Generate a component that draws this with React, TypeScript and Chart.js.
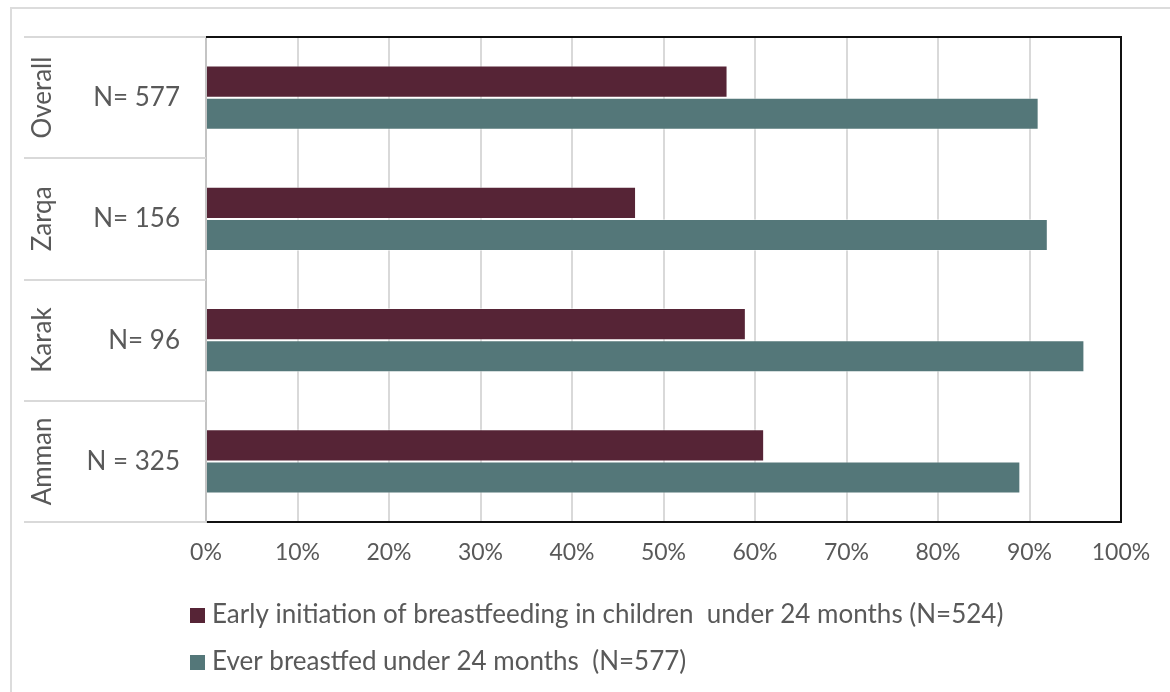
import { useEffect, useRef } from 'react';
import { Chart, registerables } from 'chart.js';

Chart.register(...registerables);

// Regions (top to bottom) and their sample sizes
const regions = ['Overall', 'Zarqa', 'Karak', 'Amman'];
const sampleSizes = ['N= 577', 'N= 156', 'N= 96', 'N = 325'];

// Percentages per region
const earlyInitiation = [57, 47, 59, 61];
const everBreastfed = [91, 92, 96, 89];

const seriesNames = [
  'Early initiation of breastfeeding in children  under 24 months (N=524)',
  'Ever breastfed under 24 months  (N=577)',
];
const seriesColors = ['#562436', '#547779'];

const FONT_FAMILY = 'Lato, "Open Sans", sans-serif';
const TEXT_COLOR = '#595959';

// Draws the grouped category column, the black plot frame and the legend
const decorations = {
  id: 'decorations',
  afterDraw(chart: any) {
    const { ctx, chartArea: a, scales } = chart;
    const y = scales.y;
    ctx.save();

    // category separators spanning both label columns
    ctx.strokeStyle = '#d9d9d9';
    ctx.lineWidth = 2;
    for (let i = 0; i <= regions.length; i++) {
      const py = Math.round(y.getPixelForValue(i - 0.5));
      ctx.beginPath();
      ctx.moveTo(24, py);
      ctx.lineTo(a.left, py);
      ctx.stroke();
    }

    // rotated region names
    ctx.fillStyle = TEXT_COLOR;
    ctx.font = `26px ${FONT_FAMILY}`;
    ctx.textAlign = 'center';
    ctx.textBaseline = 'middle';
    regions.forEach((name, i) => {
      ctx.save();
      ctx.translate(43, y.getPixelForValue(i));
      ctx.rotate(-Math.PI / 2);
      ctx.fillText(name, 0, 0);
      ctx.restore();
    });

    // black frame on top and right of the plot area
    ctx.strokeStyle = '#111';
    ctx.lineWidth = 2;
    ctx.beginPath();
    ctx.moveTo(a.left, a.top);
    ctx.lineTo(a.right, a.top);
    ctx.lineTo(a.right, a.bottom);
    ctx.stroke();

    // legend, one series per row
    ctx.font = `26px ${FONT_FAMILY}`;
    ctx.textAlign = 'left';
    chart.data.datasets.forEach((ds: any, i: number) => {
      const cy = 615 + i * 47;
      ctx.fillStyle = ds.backgroundColor;
      ctx.fillRect(190, cy - 7, 15, 15);
      ctx.fillStyle = TEXT_COLOR;
      ctx.fillText(ds.label, 212, cy);
    });

    ctx.restore();
  },
};

export default function App() {
  const canvasRef = useRef<HTMLCanvasElement | null>(null);

  useEffect(() => {
    const canvas = canvasRef.current;
    if (!canvas) return;
    const chart = new Chart(canvas, {
      type: 'bar',
      data: {
        labels: regions,
        datasets: [
          {
            label: seriesNames[0],
            data: earlyInitiation,
            backgroundColor: seriesColors[0],
            borderColor: 'rgba(255,255,255,0.45)',
            borderWidth: 1,
          },
          {
            label: seriesNames[1],
            data: everBreastfed,
            backgroundColor: seriesColors[1],
            borderColor: 'rgba(255,255,255,0.45)',
            borderWidth: 1,
          },
        ],
      },
      options: {
        indexAxis: 'y',
        responsive: false,
        animation: false,
        devicePixelRatio: 1,
        layout: { padding: { left: 0, top: 37, right: 49, bottom: 0 } },
        datasets: { bar: { categoryPercentage: 0.53, barPercentage: 1 } },
        plugins: {
          legend: { display: false },
          tooltip: { enabled: false },
        },
        scales: {
          x: {
            min: 0,
            max: 100,
            ticks: {
              stepSize: 10,
              padding: 17,
              color: TEXT_COLOR,
              font: { family: FONT_FAMILY, size: 23 },
              callback: (v: any) => `${v}%`,
            },
            grid: { color: '#d9d9d9', lineWidth: 2, drawTicks: false },
            border: { color: '#111', width: 2 },
            afterFit: (scale: any) => {
              scale.height = 170;
            },
          },
          y: {
            ticks: {
              padding: 26,
              color: TEXT_COLOR,
              font: { family: FONT_FAMILY, size: 26 },
              callback: (_v: any, i: number) => sampleSizes[i],
            },
            grid: { display: false, drawTicks: false },
            border: { color: '#c4c4c4', width: 2 },
            afterFit: (scale: any) => {
              scale.width = 206;
              scale.paddingTop = 0;
              scale.paddingBottom = 0;
            },
          },
        },
      },
      plugins: [decorations],
    });
    return () => chart.destroy();
  }, []);

  return (
    <div
      style={{
        position: 'absolute',
        left: 0,
        top: 0,
        width: 1170,
        height: 692,
        background: '#fff',
        overflow: 'hidden',
      }}
    >
      <div
        style={{
          position: 'absolute',
          left: 10,
          top: 7,
          width: 1200,
          height: 720,
          borderTop: '2px solid #dcdcdc',
          borderLeft: '2px solid #dcdcdc',
        }}
      />
      <canvas
        ref={canvasRef}
        width={1170}
        height={692}
        style={{ position: 'absolute', left: 0, top: 0, display: 'block' }}
      />
    </div>
  );
}
